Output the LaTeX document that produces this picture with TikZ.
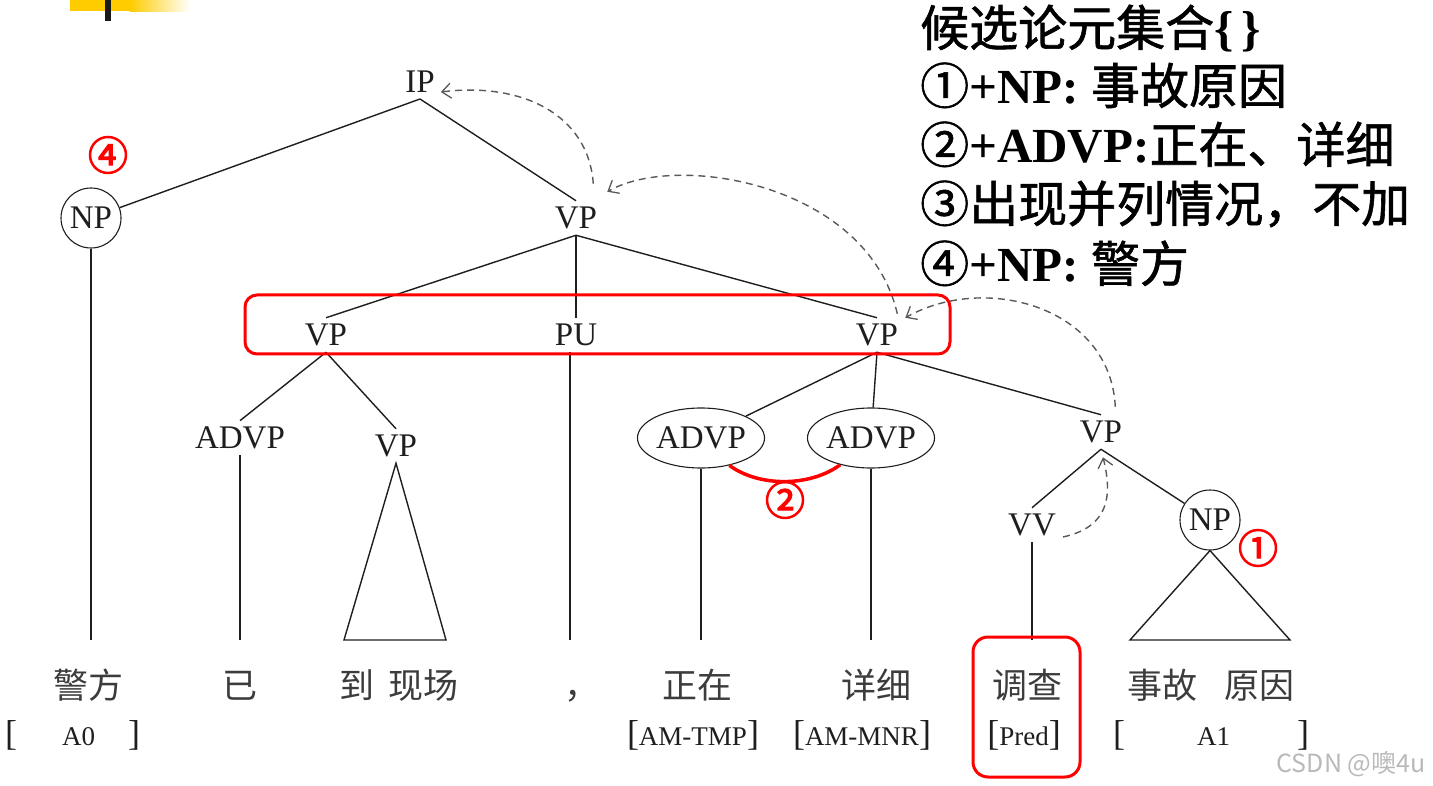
\documentclass[tikz,border=0pt]{standalone}
\usepackage{fontspec}
\setmainfont{Liberation Serif}
\newfontfamily\cjk{Noto Sans CJK SC}
\newfontfamily\cjkheavy[FakeBold=1.2]{Noto Sans CJK SC}
\newfontfamily\cjkmark[FakeBold=3]{Noto Sans CJK SC}
\usepackage{tikz}
\usetikzlibrary{shapes.geometric,arrows.meta}
\definecolor{slideyel}{RGB}{255,204,0}
\definecolor{markred}{RGB}{255,0,0}
\definecolor{ink}{RGB}{30,30,30}
\definecolor{wordgray}{RGB}{60,60,60}
\definecolor{wmgray}{RGB}{185,185,185}
\newcommand{\argL}{{\fontsize{36}{36}\selectfont[}}
\newcommand{\argR}{{\fontsize{36}{36}\selectfont]}}
\tikzset{
  cat/.style     = {font=\fontsize{33}{33}\selectfont, text=ink, inner xsep=3pt, inner ysep=6pt},
  catcirc/.style = {cat, circle, draw=ink, line width=1.1pt, minimum size=60pt, inner sep=0pt},
  catell/.style  = {cat, ellipse, draw=ink, line width=1.1pt, minimum width=112pt,
                    minimum height=60pt, inner sep=0pt},
  word/.style    = {font=\cjk\fontsize{35}{35}\selectfont, text=wordgray, inner sep=2pt, anchor=base},
  role/.style    = {font=\fontsize{27}{27}\selectfont, text=ink, inner sep=0pt, anchor=base},
  treeln/.style  = {draw=ink, line width=1.4pt},
  climb/.style   = {-{Straight Barb[length=9pt,width=15pt,line width=1.3pt]}, draw=black!65,
                    line width=1.4pt, dash pattern=on 7pt off 5pt},
  hilite/.style  = {draw=markred, line width=3pt, rounded corners=12pt},
  numlab/.style  = {font=\cjkmark\fontsize{40}{40}\selectfont, text=markred, inner sep=0pt},
  hdr/.style     = {font=\fontsize{49}{49}\selectfont, anchor=base west, inner sep=0pt},
}

\begin{document}
\begin{tikzpicture}[x=1pt, y=-1pt]
\useasboundingbox (0,0) rectangle (1433,786) ;
\fill[slideyel] (70,0) rectangle (130,11) ;
\shade[left color=slideyel, right color=white] (130,0) rectangle (190,12) ;
\fill[black!90] (105,0) rectangle (111,21) ;

\node[hdr] (h0) at (920,46) {{\cjkheavy 候选论元集合}\textbf{\{\,\}}} ;
\node[hdr] (h1) at (920,104) {{\cjkheavy ①}\textbf{+NP:} {\cjkheavy 事故原因}} ;
\node[hdr] (h2) at (920,163) {{\cjkheavy ②}\textbf{+ADVP:}{\cjkheavy 正在、详细}} ;
\node[hdr] (h3) at (920,222) {{\cjkheavy ③出现并列情况，不加}} ;
\node[hdr] (h4) at (920,282) {{\cjkheavy ④}\textbf{+NP:} {\cjkheavy 警方}} ;

\node[cat] (ip) at (420,82) {IP} ;
\node[catcirc] (np0) at (91,218) {NP} ;
\node[cat] (vp0) at (576,218) {VP} ;
\node[cat] (vpa) at (326,335) {VP} ;
\node[cat] (pu) at (576,335) {PU} ;
\node[cat] (vpb) at (877,335) {VP} ;
\node[cat] (advpa) at (240,438) {ADVP} ;
\node[cat] (vpc) at (396,446) {VP} ;
\node[catell] (advpb) at (701,438) {ADVP} ;
\node[catell] (advpc) at (871,438) {ADVP} ;
\node[cat] (vpd) at (1101,432) {VP} ;
\node[cat] (vv) at (1032,525) {VV} ;
\node[catcirc] (np1) at (1210,520) {NP} ;
\coordinate (leafrow) at (0,640) ;

\node[word] (w1) at (88,698) {警方} ;
\node[word] (w2) at (240,698) {已} ;
\node[word] (w3) at (399,698) {到\hspace{15pt}现场} ;
\node[word] (w4) at (582,698) {，} ;
\node[word] (w5) at (697,698) {正在} ;
\node[word] (w6) at (876,698) {详细} ;
\node[word] (w7) at (1027,698) {调查} ;
\node[word] (w8) at (1211,698) {事故\hspace{27pt}原因} ;

\node[role, anchor=base west] (r1) at (5,745) {\argL\hspace{45pt}A0\hspace{33pt}\argR} ;
\node[role] (r2) at (693,745) {\argL AM-TMP\argR} ;
\node[role] (r3) at (862,745) {\argL AM-MNR\argR} ;
\node[role] (r4) at (1024,745) {\argL Pred\argR} ;
\node[role, anchor=base west] (r5) at (1113,745) {\argL\hspace{72pt}A1\hspace{67pt}\argR} ;

\draw[treeln] (ip.south) to (np0) ;
\draw[treeln] (ip.south) to (vp0.north) ;
\draw[treeln] (vp0.south) to (vpa.north) ;
\draw[treeln] (vp0.south) to (pu.north) ;
\draw[treeln] (vp0.south) to (vpb.north) ;
\draw[treeln] (vpa.south) to (advpa.north) ;
\draw[treeln] (vpa.south) to (vpc.north) ;
\draw[treeln] (vpb.south) to (advpb) ;
\draw[treeln] (vpb.south) to (advpc) ;
\draw[treeln] (vpb.south) to (vpd.north) ;
\draw[treeln] (vpd.south) to (vv.north) ;
\draw[treeln] (vpd.south) to (np1) ;

\draw[treeln] (np0.south) to (np0.south |- leafrow) ;
\draw[treeln] (advpa.south) to (advpa.south |- leafrow) ;
\draw[treeln] ([xshift=-6pt]pu.south) to ([xshift=-6pt]pu.south |- leafrow) ;
\draw[treeln] (advpb.south) to (advpb.south |- leafrow) ;
\draw[treeln] (advpc.south) to (advpc.south |- leafrow) ;
\draw[treeln] (vv.south) to (vv.south |- leafrow) ;
\draw[treeln] (vpc.south) -- ([xshift=-52pt]vpc.south |- leafrow)
  -- ([xshift=50pt]vpc.south |- leafrow) -- cycle ;
\draw[treeln] (np1.south) -- ([xshift=-80pt]np1.south |- leafrow)
  -- ([xshift=80pt]np1.south |- leafrow) -- cycle ;

\draw[climb] ([shift={(4,12)}]vv.east) .. controls +(45,-10) and +(10,40) .. ([shift={(2,8)}]vpd.south) ;
\draw[climb] ([shift={(-10,-8)}]vpd.north east) .. controls +(-5,-100) and +(80,-45) .. ([shift={(4,0)}]vpb.north east) ;
\draw[climb] ([shift={(-4,-4)}]vpb.north east) .. controls +(-30,-130) and +(70,-40) .. ([shift={(7,-9)}]vp0.north east) ;
\draw[climb] ([shift={(-7,-17)}]vp0.north east) .. controls +(-5,-70) and +(80,-10) .. ([shift={(3,10)}]ip.east) ;

\draw[hilite] (245,295) rectangle (950,354) ;
\draw[hilite, rounded corners=15pt] (973,637) rectangle (1080,777) ;
\draw[markred, line width=3.5pt] (advpb.-44) .. controls +(30,22) and +(-30,22) .. (advpc.-139) ;
\node[numlab] (n4) at (108,155) {④} ;
\node[numlab] (n2) at (785,500) {②} ;
\node[numlab] (n1) at (1258,548) {①} ;

\node[font=\cjk\fontsize{25}{25}\selectfont, text=wmgray, inner sep=0pt] (wm) at (1351,764) {CSDN @噢4u} ;
\end{tikzpicture}
\end{document}
